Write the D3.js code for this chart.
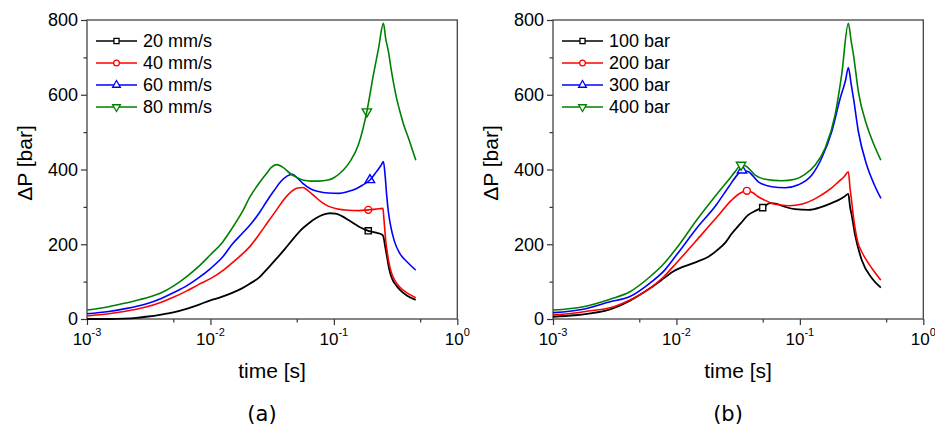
<!DOCTYPE html>
<html>
<head>
<meta charset="utf-8">
<script src="https://cdn.jsdelivr.net/npm/d3@7"></script>
<style>
  body { margin: 0; background: #fff; }
  svg text { font-family: "Liberation Sans", Arial, sans-serif; fill: #000; }
</style>
</head>
<body>
<svg id="chart" width="935" height="429"></svg>
<script>
// panel (a): pressure drop vs time for several injection speeds  [t (s), dP (bar)]
const speed20 = [[0.001,0],[0.0015,0],[0.002,1],[0.0025,3],[0.003,6],[0.004,12],[0.005,18],[0.0065,28],[0.008,38],[0.01,50],[0.012,58],[0.015,70],[0.018,82],[0.021,95],[0.025,112],[0.029,135],[0.034,160],[0.04,187],[0.047,215],[0.054,238],[0.062,255],[0.072,270],[0.082,279],[0.093,283],[0.103,282],[0.115,276],[0.135,262],[0.16,247],[0.19,236],[0.22,231],[0.245,226],[0.252,220],[0.26,195],[0.268,171],[0.28,135],[0.295,109],[0.32,90],[0.343,78],[0.39,63],[0.46,51]];
const speed40 = [[0.001,8],[0.0015,14],[0.002,20],[0.003,32],[0.004,45],[0.005,58],[0.0065,76],[0.008,92],[0.01,108],[0.013,133],[0.016,158],[0.021,195],[0.025,228],[0.029,258],[0.034,290],[0.039,318],[0.045,340],[0.05,350],[0.056,352],[0.062,343],[0.07,328],[0.08,312],[0.09,302],[0.105,295],[0.13,291],[0.16,290],[0.19,292],[0.22,294],[0.25,296],[0.254,270],[0.258,243],[0.263,210],[0.268,189],[0.278,155],[0.29,128],[0.31,105],[0.343,85],[0.4,68],[0.46,57]];
const speed60 = [[0.001,14],[0.0015,20],[0.002,27],[0.003,40],[0.004,55],[0.005,70],[0.0065,90],[0.008,110],[0.01,135],[0.0125,165],[0.015,200],[0.018,228],[0.021,252],[0.025,285],[0.0286,315],[0.033,345],[0.037,367],[0.042,383],[0.046,387],[0.05,379],[0.056,363],[0.065,348],[0.075,341],[0.09,337],[0.11,336],[0.13,341],[0.15,348],[0.17,358],[0.196,372],[0.22,393],[0.24,410],[0.252,421],[0.26,385],[0.268,330],[0.277,285],[0.29,245],[0.31,207],[0.343,175],[0.4,150],[0.46,131]];
const speed80 = [[0.001,24],[0.0015,33],[0.002,42],[0.003,56],[0.004,70],[0.005,88],[0.0065,115],[0.008,140],[0.01,172],[0.0125,205],[0.015,243],[0.018,285],[0.021,328],[0.025,365],[0.0286,390],[0.031,405],[0.0344,413],[0.039,405],[0.044,390],[0.05,379],[0.057,371],[0.065,369],[0.075,369],[0.09,372],[0.1,378],[0.112,390],[0.122,402],[0.135,421],[0.158,466],[0.185,555],[0.209,653],[0.23,724],[0.252,791],[0.263,750],[0.277,715],[0.29,672],[0.303,635],[0.32,595],[0.343,555],[0.37,517],[0.402,484],[0.43,455],[0.461,425]];

// panel (b): pressure drop vs time for several holding pressures
const bar100 = [[0.001,6],[0.0015,10],[0.002,15],[0.0029,26],[0.0042,49],[0.0061,82],[0.008,110],[0.0094,127],[0.0114,140],[0.0146,153],[0.018,166],[0.0212,183],[0.025,205],[0.028,228],[0.033,255],[0.038,278],[0.044,290],[0.05,298],[0.0574,310],[0.065,308],[0.0713,303],[0.0914,294],[0.117,292],[0.15,300],[0.18,310],[0.205,318],[0.23,328],[0.247,335],[0.255,300],[0.263,278],[0.28,225],[0.317,158],[0.383,109],[0.453,84]];
const bar200 = [[0.001,11],[0.0015,16],[0.002,22],[0.0029,30],[0.0042,51],[0.0061,82],[0.008,115],[0.01,150],[0.0146,211],[0.0212,272],[0.028,318],[0.033,337],[0.0372,343],[0.042,337],[0.046,327],[0.052,318],[0.059,310],[0.07,305],[0.0807,303],[0.095,305],[0.11,310],[0.13,320],[0.15,332],[0.18,350],[0.205,367],[0.23,382],[0.247,394],[0.255,350],[0.263,314],[0.27,280],[0.28,243],[0.295,205],[0.317,180],[0.35,155],[0.383,136],[0.42,118],[0.453,104]];
const bar300 = [[0.001,17],[0.0018,27],[0.0029,46],[0.0042,60],[0.0061,96],[0.008,130],[0.01,171],[0.0146,243],[0.021,305],[0.0268,356],[0.031,385],[0.034,398],[0.0383,394],[0.0461,367],[0.0592,354],[0.0759,351],[0.0973,359],[0.125,385],[0.15,430],[0.181,501],[0.212,590],[0.235,640],[0.247,673],[0.26,630],[0.272,590],[0.298,501],[0.348,412],[0.4,360],[0.453,323]];
const bar400 = [[0.001,24],[0.00176,33],[0.0029,53],[0.0042,73],[0.0061,113],[0.008,150],[0.01,189],[0.0146,265],[0.021,332],[0.0264,372],[0.03,395],[0.0334,412],[0.037,408],[0.0434,385],[0.0523,374],[0.0713,370],[0.0914,374],[0.11,387],[0.133,412],[0.16,457],[0.193,546],[0.218,653],[0.247,791],[0.26,745],[0.272,706],[0.298,608],[0.348,519],[0.4,465],[0.453,425]];

const seriesColors = ['#000000', '#ff0000', '#0000ff', '#008000'];
const seriesSymbols = [d3.symbolSquare, d3.symbolCircle, d3.symbolTriangle, 'down'];
const labelsA = ['20 mm/s', '40 mm/s', '60 mm/s', '80 mm/s'];
const labelsB = ['100 bar', '200 bar', '300 bar', '400 bar'];
const markersA = [[0.19,236],[0.19,292],[0.196,372],[0.185,555]];
const markersB = [[0.05,298],[0.0372,343],[0.034,398],[0.0334,412]];

const xMajor = [1e-3, 1e-2, 1e-1, 1];
const xMinor = [5e-3, 5e-2, 5e-1];
const yMajor = [0, 200, 400, 600, 800];
const yMinor = [100, 300, 500, 700];

const svg = d3.select('#chart');

function symbolPath(sym, size) {
  if (sym === 'down') {
    return d3.symbol().type(d3.symbolTriangle).size(size)();
  }
  return d3.symbol().type(sym).size(size)();
}

function drawPanel(opts) {
  const clipId = 'clip-' + opts.tag;
  svg.append('clipPath').attr('id', clipId)
    .append('rect').attr('x', opts.x0).attr('y', 0).attr('width', opts.w).attr('height', 429);

  const g = svg.append('g').attr('clip-path', `url(#${clipId})`);

  const x = d3.scaleLog().domain([1e-3, 1]).range([opts.left, opts.left + 370.3]);
  const y = d3.scaleLinear().domain([0, 800]).range([319, 20]);

  // ticks
  const xAxis = g.append('g').attr('transform', 'translate(0,319)')
    .call(d3.axisBottom(x).tickValues(xMajor).tickSize(6).tickFormat(''));
  const xAxisMinor = g.append('g').attr('transform', 'translate(0,319)')
    .call(d3.axisBottom(x).tickValues(xMinor).tickSize(3.5).tickFormat(''));
  const yAxis = g.append('g').attr('transform', `translate(${opts.left},0)`)
    .call(d3.axisLeft(y).tickValues(yMajor).tickSize(6).tickPadding(3));
  const yAxisMinor = g.append('g').attr('transform', `translate(${opts.left},0)`)
    .call(d3.axisLeft(y).tickValues(yMinor).tickSize(3.5).tickFormat(''));
  [xAxis, xAxisMinor, yAxis, yAxisMinor].forEach(a => {
    a.select('.domain').remove();
    a.selectAll('line').attr('stroke', '#333').attr('stroke-width', 1.2);
  });
  yAxis.selectAll('text')
    .style('font-size', '18px')
    .attr('fill', '#000');

  // x tick labels as 10^n
  xMajor.forEach(v => {
    const t = g.append('text')
      .attr('x', x(v))
      .attr('y', 345)
      .attr('text-anchor', 'middle')
      .style('font-size', '17px');
    t.append('tspan').text('10');
    t.append('tspan')
      .attr('dy', -9)
      .style('font-size', '11px')
      .text(String(Math.round(Math.log10(v))));
  });

  // frame
  g.append('rect')
    .attr('x', opts.left).attr('y', 20)
    .attr('width', 370.3).attr('height', 299)
    .attr('fill', 'none')
    .attr('stroke', '#444')
    .attr('stroke-width', 1.3);

  // curves
  const line = d3.line().curve(d3.curveMonotoneX).x(d => x(d[0])).y(d => y(d[1]));
  opts.series.forEach((s, i) => {
    g.append('path')
      .datum(s)
      .attr('d', line)
      .attr('fill', 'none')
      .attr('stroke', seriesColors[i])
      .attr('stroke-width', i === 0 ? 1.8 : 1.6)
      .attr('stroke-linejoin', 'round');
  });

  // one marker on each curve
  opts.markers.forEach((m, i) => {
    g.append('path')
      .attr('d', symbolPath(seriesSymbols[i], 38))
      .attr('transform', `translate(${x(m[0])},${y(m[1])})` + (seriesSymbols[i] === 'down' ? ' rotate(180)' : ''))
      .attr('fill', opts.markerFill)
      .attr('stroke', seriesColors[i])
      .attr('stroke-width', 1.4);
  });

  // legend
  const lx = opts.left + 9;
  opts.labels.forEach((lab, i) => {
    const ly = 41 + i * 22;
    g.append('line')
      .attr('x1', lx).attr('x2', lx + 41)
      .attr('y1', ly).attr('y2', ly)
      .attr('stroke', seriesColors[i])
      .attr('stroke-width', 1.6);
    g.append('path')
      .attr('d', symbolPath(seriesSymbols[i], 26))
      .attr('transform', `translate(${lx + 20.5},${ly})` + (seriesSymbols[i] === 'down' ? ' rotate(180)' : ''))
      .attr('fill', '#fff')
      .attr('stroke', seriesColors[i])
      .attr('stroke-width', 1.3);
    g.append('text')
      .attr('x', lx + 47)
      .attr('y', ly)
      .attr('dy', '0.36em')
      .style('font-size', '18px')
      .text(lab);
  });

  // axis titles
  g.append('text')
    .attr('x', opts.left + 185)
    .attr('y', 378)
    .attr('text-anchor', 'middle')
    .style('font-size', '21px')
    .text('time [s]');
  g.append('text')
    .attr('transform', `translate(${opts.left - 55},163) rotate(-90)`)
    .attr('text-anchor', 'middle')
    .style('font-size', '21px')
    .text('\u0394P [bar]');

  // panel caption
  g.append('text')
    .attr('x', opts.left + 175)
    .attr('y', 421)
    .attr('text-anchor', 'middle')
    .style('font-family', '"DejaVu Sans", sans-serif')
    .style('font-size', '21px')
    .text(opts.caption);
}

drawPanel({ tag: 'a', x0: 0, w: 470, left: 87, series: [speed20, speed40, speed60, speed80],
  markers: markersA, labels: labelsA, caption: '(a)', markerFill: 'none' });
drawPanel({ tag: 'b', x0: 470, w: 465, left: 553, series: [bar100, bar200, bar300, bar400],
  markers: markersB, labels: labelsB, caption: '(b)', markerFill: '#fff' });
</script>
</body>
</html>
